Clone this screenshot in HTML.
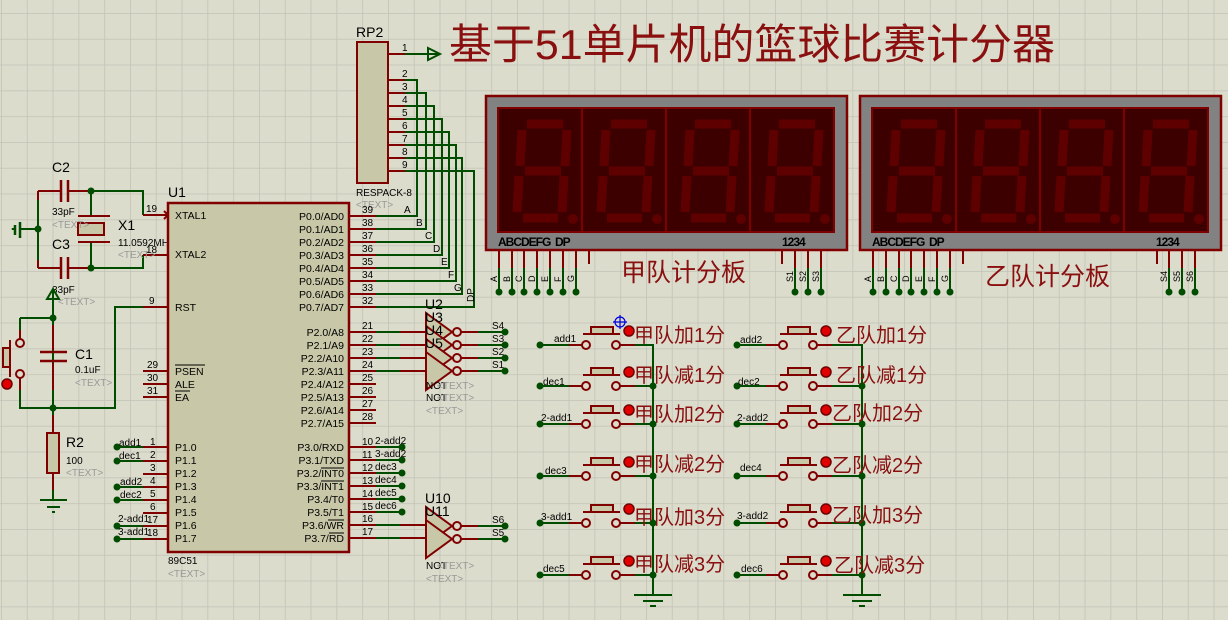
<!DOCTYPE html>
<html><head><meta charset="utf-8"><style>
html,body{margin:0;padding:0;background:#dcdccd;}
svg{display:block;font-family:"Liberation Sans",Arial,sans-serif;}
.cn{font-family:"Liberation Sans","Noto Sans CJK SC",sans-serif;}
</style></head><body>
<svg width="1228" height="620" viewBox="0 0 1228 620" xmlns="http://www.w3.org/2000/svg">
<defs>
<pattern id="g" x="1" y="13" width="25.8" height="25.8" patternUnits="userSpaceOnUse">
<path d="M0 0H25.8M0 0V25.8" stroke="#c2c2b6" stroke-width="1.6" fill="none"/>
</pattern>
<g id="dig">
<g stroke="#5e0000" stroke-width="9" stroke-linecap="butt" fill="none">
<path d="M29 16H65"/><path d="M69 22L67 58"/><path d="M24 22L22 58"/><path d="M27 63H63"/>
<path d="M21 68L19 104"/><path d="M66 68L64 104"/><path d="M25 110H60"/>
</g>
<circle cx="75" cy="111" r="5" fill="#5e0000"/>
</g>
<g id="disp">
<rect x="0" y="0" width="361" height="154" fill="#828282" stroke="#800000" stroke-width="2.5"/>
<rect x="12" y="12" width="336" height="124" fill="#3c0000" stroke="#800000" stroke-width="2"/>
<path d="M96 12V136M180 12V136M264 12V136" stroke="#800000" stroke-width="2"/>
<use href="#dig" x="12" y="12"/><use href="#dig" x="96" y="12"/><use href="#dig" x="180" y="12"/><use href="#dig" x="264" y="12"/>
<text x="12" y="150" font-size="12" font-weight="bold" fill="#000" letter-spacing="-1">ABCDEFG&#160;&#160;DP</text>
<text x="296" y="150" font-size="12" font-weight="bold" fill="#000" letter-spacing="-1">1234</text>
</g>
<g id="btn">
<path d="M0 0H29" stroke="#004d00" stroke-width="2"/>
<path d="M29 0H42" stroke="#800000" stroke-width="2"/>
<circle cx="46" cy="0" r="4" fill="#dcdccd" stroke="#800000" stroke-width="2"/>
<circle cx="76" cy="0" r="4" fill="#dcdccd" stroke="#800000" stroke-width="2"/>
<path d="M43 -11H80" stroke="#800000" stroke-width="2"/>
<rect x="51" y="-18" width="22" height="7" fill="#c8c8a8" stroke="#800000" stroke-width="2"/>
<path d="M80 0H95" stroke="#800000" stroke-width="2"/>
<circle cx="0" cy="0" r="3.5" fill="#004d00"/>
<circle cx="89" cy="-14" r="5" fill="#e00000" stroke="#700000" stroke-width="1.5"/>
</g>
</defs>
<rect width="1228" height="620" fill="#dcdccd"/>
<rect width="1228" height="620" fill="url(#g)"/>

<!-- Title -->
<text x="449" y="59" class="cn" font-size="42" fill="#8a1010" textLength="606" lengthAdjust="spacingAndGlyphs">基于51单片机的篮球比赛计分器</text>

<!-- RP2 -->
<text x="356" y="37" font-size="14" fill="#000">RP2</text>
<rect x="357" y="42" width="31" height="141" fill="#c8c8a8" stroke="#800000" stroke-width="2"/>
<text x="356" y="196" font-size="10" fill="#000">RESPACK-8</text>
<text x="356" y="208" font-size="10" fill="#999">&lt;TEXT&gt;</text>
<path d="M388 54H405" stroke="#800000" stroke-width="2"/>
<path d="M405 54H440" stroke="#004d00" stroke-width="2"/>
<path d="M428 48L440 54L428 60Z" fill="none" stroke="#004d00" stroke-width="2"/>
<text x="402" y="51" font-size="10">1</text>
<g stroke-width="2" fill="none">
<path d="M388 80H405M388 93H405M388 106H405M388 119H405M388 132H405M388 145H405M388 158H405M388 171H405" stroke="#800000"/>
<path d="M405 80H417V216H376M405 93H426V229H376M405 106H434V242H376M405 119H442V255H376M405 132H449V268H376M405 145H456V281H376M405 158H462V294H376M405 171H474V307H376" stroke="#004d00"/>
</g>
<g font-size="10">
<text x="402" y="77">2</text><text x="402" y="90">3</text><text x="402" y="103">4</text><text x="402" y="116">5</text><text x="402" y="129">6</text><text x="402" y="142">7</text><text x="402" y="155">8</text><text x="402" y="168">9</text>
<text x="404" y="213">A</text><text x="416" y="226">B</text><text x="425" y="239">C</text><text x="433" y="252">D</text><text x="441" y="265">E</text><text x="448" y="278">F</text><text x="454" y="291">G</text>
<text x="470" y="306" transform="rotate(-90 470 302)" font-size="10">DP</text>
</g>

<!-- Displays -->
<use href="#disp" x="486" y="96"/>
<use href="#disp" x="860" y="96"/>
<g stroke-width="2" fill="none">
<path d="M499 251V268M512 251V268M524 251V268M537 251V268M550 251V268M563 251V268M576 251V268M589 251V264M782 251V264M795 251V268M808 251V268M821 251V268" stroke="#800000"/>
<path d="M499 268V292M512 268V292M524 268V292M537 268V292M550 268V292M563 268V292M576 268V292M795 268V292M808 268V292M821 268V292" stroke="#004d00"/>
<path d="M873 251V268M886 251V268M899 251V268M911 251V268M924 251V268M937 251V268M950 251V268M963 251V264M1157 251V264M1169 251V268M1182 251V268M1195 251V268" stroke="#800000"/>
<path d="M873 268V292M886 268V292M899 268V292M911 268V292M924 268V292M937 268V292M950 268V292M1169 268V292M1182 268V292M1195 268V292" stroke="#004d00"/>
</g>
<g fill="#004d00">
<circle cx="499" cy="292" r="3.5"/><circle cx="512" cy="292" r="3.5"/><circle cx="524" cy="292" r="3.5"/><circle cx="537" cy="292" r="3.5"/><circle cx="550" cy="292" r="3.5"/><circle cx="563" cy="292" r="3.5"/><circle cx="576" cy="292" r="3.5"/><circle cx="795" cy="292" r="3.5"/><circle cx="808" cy="292" r="3.5"/><circle cx="821" cy="292" r="3.5"/>
<circle cx="873" cy="292" r="3.5"/><circle cx="886" cy="292" r="3.5"/><circle cx="899" cy="292" r="3.5"/><circle cx="911" cy="292" r="3.5"/><circle cx="924" cy="292" r="3.5"/><circle cx="937" cy="292" r="3.5"/><circle cx="950" cy="292" r="3.5"/><circle cx="1169" cy="292" r="3.5"/><circle cx="1182" cy="292" r="3.5"/><circle cx="1195" cy="292" r="3.5"/>
</g>
<g font-size="9" fill="#000">
<text transform="translate(497,282) rotate(-90)">A</text><text transform="translate(510,282) rotate(-90)">B</text><text transform="translate(522,282) rotate(-90)">C</text><text transform="translate(535,282) rotate(-90)">D</text><text transform="translate(548,282) rotate(-90)">E</text><text transform="translate(561,282) rotate(-90)">F</text><text transform="translate(574,282) rotate(-90)">G</text>
<text transform="translate(793,282) rotate(-90)">S1</text><text transform="translate(806,282) rotate(-90)">S2</text><text transform="translate(819,282) rotate(-90)">S3</text>
<text transform="translate(871,282) rotate(-90)">A</text><text transform="translate(884,282) rotate(-90)">B</text><text transform="translate(897,282) rotate(-90)">C</text><text transform="translate(909,282) rotate(-90)">D</text><text transform="translate(922,282) rotate(-90)">E</text><text transform="translate(935,282) rotate(-90)">F</text><text transform="translate(948,282) rotate(-90)">G</text>
<text transform="translate(1167,282) rotate(-90)">S4</text><text transform="translate(1180,282) rotate(-90)">S5</text><text transform="translate(1193,282) rotate(-90)">S6</text>
</g>
<text x="621" y="281" class="cn" font-size="25" fill="#8a1010">甲队计分板</text>
<text x="985" y="285" class="cn" font-size="25" fill="#8a1010">乙队计分板</text>

<!-- Crystal / caps -->
<g stroke-width="2" fill="none">
<path d="M38 191V268M38 191H61M68 191H91M38 268H61M68 268H91" stroke="#800000"/>
<path d="M38 200V260" stroke="#004d00"/>
<path d="M91 191H143V215M91 268H143V255M91 191V216M91 242V268M20 229H38" stroke="#004d00"/>
<path d="M143 215H168M143 255H168" stroke="#800000"/>
<path d="M61 180V202M68 180V202M61 257V279M68 257V279" stroke="#800000" stroke-width="2.5"/>
<path d="M78 216H110M78 242H110" stroke="#800000"/>
<rect x="78" y="223" width="26" height="12" fill="#c8c8a8" stroke="#800000"/>
<path d="M20 222V238M15 225V235M13 228V230" stroke="#004d00" stroke-width="2.5"/>
<path d="M164 211L168 215L164 219" stroke="#800000"/>
</g>
<circle cx="38" cy="229" r="3.5" fill="#004d00"/>
<circle cx="91" cy="191" r="3.5" fill="#004d00"/>
<circle cx="91" cy="268" r="3.5" fill="#004d00"/>
<text x="52" y="172" font-size="14">C2</text>
<text x="52" y="215" font-size="10">33pF</text>
<text x="52" y="228" font-size="10" fill="#999">&lt;TEXT&gt;</text>
<text x="52" y="249" font-size="14">C3</text>
<text x="52" y="293" font-size="10">33pF</text>
<text x="58" y="305" font-size="10" fill="#999">&lt;TEXT&gt;</text>
<text x="118" y="230" font-size="14">X1</text>
<text x="118" y="246" font-size="10">11.0592MHz</text>
<text x="118" y="258" font-size="10" fill="#999">&lt;TEXT&gt;</text>
<text x="146" y="212" font-size="10">19</text>
<text x="146" y="253" font-size="10">18</text>

<!-- Reset circuit -->
<g stroke-width="2" fill="none">
<path d="M53 290V408M20 318H53M20 318V340M20 378V408H115V307H143M53 408V500" stroke="#004d00"/>
<path d="M53 325V350M53 363V390M53 415V433M53 473V490M20 330V339M20 379V390" stroke="#800000"/>
<path d="M47 299L53 289L59 299Z" stroke="#004d00"/>
<path d="M40 352H67M40 361H67" stroke="#800000" stroke-width="2.5"/>
<path d="M143 307H168" stroke="#800000"/>
<circle cx="20" cy="343" r="4" fill="#dcdccd" stroke="#800000"/>
<circle cx="20" cy="374" r="4" fill="#dcdccd" stroke="#800000"/>
<path d="M10 340V377" stroke="#800000"/>
<rect x="3" y="348" width="7" height="19" fill="#c8c8a8" stroke="#800000"/>
<rect x="47" y="433" width="12" height="40" fill="#c8c8a8" stroke="#800000"/>
<path d="M40 500H67M47 507H60M52 512H55" stroke="#004d00" stroke-width="2"/>
</g>
<circle cx="53" cy="318" r="3.5" fill="#004d00"/>
<circle cx="53" cy="408" r="3.5" fill="#004d00"/>
<circle cx="7" cy="384" r="5" fill="#e00000" stroke="#700000" stroke-width="1.5"/>
<text x="75" y="359" font-size="14">C1</text>
<text x="75" y="373" font-size="10">0.1uF</text>
<text x="75" y="386" font-size="10" fill="#999">&lt;TEXT&gt;</text>
<text x="66" y="447" font-size="14">R2</text>
<text x="66" y="464" font-size="10">100</text>
<text x="66" y="476" font-size="10" fill="#999">&lt;TEXT&gt;</text>
<text x="149" y="304" font-size="10">9</text>

<!-- U1 -->
<text x="168" y="197" font-size="14">U1</text>
<rect x="168" y="203" width="181" height="349" fill="#c8c8a8" stroke="#800000" stroke-width="2.5"/>
<text x="168" y="564" font-size="10">89C51</text>
<text x="168" y="577" font-size="10" fill="#999">&lt;TEXT&gt;</text>
<g font-size="10.5" fill="#000">
<text x="175" y="219">XTAL1</text><text x="175" y="258">XTAL2</text><text x="175" y="311">RST</text>
<text x="175" y="375">PSEN</text><text x="175" y="388">ALE</text><text x="175" y="401">EA</text>
<text x="175" y="451">P1.0</text><text x="175" y="464">P1.1</text><text x="175" y="477">P1.2</text><text x="175" y="490">P1.3</text><text x="175" y="503">P1.4</text><text x="175" y="516">P1.5</text><text x="175" y="529">P1.6</text><text x="175" y="542">P1.7</text>
</g>
<path d="M175 365H205M175 391H190M321 468H344M321 481H344M328 520H344M329 533H344" stroke="#000" stroke-width="1"/>
<g font-size="10.5" fill="#000" text-anchor="end">
<text x="344" y="220">P0.0/AD0</text><text x="344" y="233">P0.1/AD1</text><text x="344" y="246">P0.2/AD2</text><text x="344" y="259">P0.3/AD3</text><text x="344" y="272">P0.4/AD4</text><text x="344" y="285">P0.5/AD5</text><text x="344" y="298">P0.6/AD6</text><text x="344" y="311">P0.7/AD7</text>
<text x="344" y="336">P2.0/A8</text><text x="344" y="349">P2.1/A9</text><text x="344" y="362">P2.2/A10</text><text x="344" y="375">P2.3/A11</text><text x="344" y="388">P2.4/A12</text><text x="344" y="401">P2.5/A13</text><text x="344" y="414">P2.6/A14</text><text x="344" y="427">P2.7/A15</text>
<text x="344" y="451">P3.0/RXD</text><text x="344" y="464">P3.1/TXD</text><text x="344" y="477">P3.2/INT0</text><text x="344" y="490">P3.3/INT1</text><text x="344" y="503">P3.4/T0</text><text x="344" y="516">P3.5/T1</text><text x="344" y="529">P3.6/WR</text><text x="344" y="542">P3.7/RD</text>
</g>
<g stroke-width="2" fill="none">
<path d="M143 371H168M143 384H168M143 397H168M143 447H168M143 461H168M143 474H168M143 487H168M143 500H168M143 513H168M143 526H168M143 539H168" stroke="#800000"/>
<path d="M117 447H143M117 461H143M117 487H143M117 500H143M117 526H143M117 539H143" stroke="#004d00"/>
<path d="M349 216H376M349 229H376M349 242H376M349 255H376M349 268H376M349 281H376M349 294H376M349 307H376M349 332H376M349 345H376M349 358H376M349 371H376M349 384H376M349 397H376M349 410H376M349 423H376M349 447H376M349 460H376M349 473H376M349 486H376M349 499H376M349 512H376M349 525H376M349 538H376" stroke="#800000"/>
<path d="M376 332H400M376 345H400M376 358H400M376 371H400M376 447H402M376 460H402M376 473H402M376 486H402M376 499H402M376 512H402M376 525H400M376 538H400" stroke="#004d00"/>
<path d="M400 332H426M400 345H426M400 358H426M400 371H426M400 525H426M400 538H426" stroke="#800000"/>
</g>
<g fill="#004d00">
<circle cx="117" cy="447" r="3.5"/><circle cx="117" cy="461" r="3.5"/><circle cx="117" cy="487" r="3.5"/><circle cx="117" cy="500" r="3.5"/><circle cx="117" cy="526" r="3.5"/><circle cx="117" cy="539" r="3.5"/>
<circle cx="402" cy="447" r="3.5"/><circle cx="402" cy="460" r="3.5"/><circle cx="402" cy="473" r="3.5"/><circle cx="402" cy="486" r="3.5"/><circle cx="402" cy="499" r="3.5"/><circle cx="402" cy="512" r="3.5"/>
</g>
<g font-size="10" fill="#000">
<text x="150" y="445">1</text><text x="150" y="458">2</text><text x="150" y="471">3</text><text x="150" y="484">4</text><text x="150" y="497">5</text><text x="150" y="510">6</text><text x="147" y="523">17</text><text x="147" y="536">18</text>
<text x="119" y="446">add1</text><text x="119" y="459">dec1</text><text x="120" y="485">add2</text><text x="120" y="498">dec2</text><text x="118" y="522">2-add1</text><text x="118" y="535">3-add1</text>
<text x="147" y="368">29</text><text x="147" y="381">30</text><text x="147" y="394">31</text>
<text x="362" y="213">39</text><text x="362" y="226">38</text><text x="362" y="239">37</text><text x="362" y="252">36</text><text x="362" y="265">35</text><text x="362" y="278">34</text><text x="362" y="291">33</text><text x="362" y="304">32</text>
<text x="362" y="329">21</text><text x="362" y="342">22</text><text x="362" y="355">23</text><text x="362" y="368">24</text><text x="362" y="381">25</text><text x="362" y="394">26</text><text x="362" y="407">27</text><text x="362" y="420">28</text>
<text x="362" y="445">10</text><text x="362" y="458">11</text><text x="362" y="471">12</text><text x="362" y="484">13</text><text x="362" y="497">14</text><text x="362" y="510">15</text><text x="362" y="522">16</text><text x="362" y="535">17</text>
<text x="375" y="444">2-add2</text><text x="375" y="457">3-add2</text><text x="375" y="470">dec3</text><text x="375" y="483">dec4</text><text x="375" y="496">dec5</text><text x="375" y="509">dec6</text>
</g>

<!-- NOT gates -->
<g stroke="#800000" stroke-width="2" fill="#c8c8a8">
<path d="M426 313L452 332L426 351Z"/><path d="M426 326L452 345L426 364Z"/><path d="M426 339L452 358L426 377Z"/><path d="M426 352L452 371L426 390Z"/>
<path d="M426 507L452 526L426 545Z"/><path d="M426 520L452 539L426 558Z"/>
<circle cx="457" cy="332" r="4" fill="#dcdccd"/><circle cx="457" cy="345" r="4" fill="#dcdccd"/><circle cx="457" cy="358" r="4" fill="#dcdccd"/><circle cx="457" cy="371" r="4" fill="#dcdccd"/>
<circle cx="457" cy="526" r="4" fill="#dcdccd"/><circle cx="457" cy="539" r="4" fill="#dcdccd"/>
</g>
<g stroke-width="2" fill="none">
<path d="M461 332H478M461 345H478M461 358H478M461 371H478M461 526H478M461 539H478" stroke="#800000"/>
<path d="M478 332H505M478 345H505M478 358H505M478 371H505M478 526H505M478 539H505" stroke="#004d00"/>
</g>
<g fill="#004d00"><circle cx="505" cy="332" r="3.5"/><circle cx="505" cy="345" r="3.5"/><circle cx="505" cy="358" r="3.5"/><circle cx="505" cy="371" r="3.5"/><circle cx="505" cy="526" r="3.5"/><circle cx="505" cy="539" r="3.5"/></g>
<g font-size="10"><text x="492" y="329">S4</text><text x="492" y="342">S3</text><text x="492" y="355">S2</text><text x="492" y="368">S1</text><text x="492" y="523">S6</text><text x="492" y="536">S5</text></g>
<g font-size="14"><text x="425" y="309">U2</text><text x="425" y="322">U3</text><text x="425" y="335">U4</text><text x="425" y="348">U5</text><text x="425" y="503">U10</text><text x="425" y="516">U11</text></g>
<g font-size="10"><text x="426" y="389">NOT</text><text x="426" y="401">NOT</text><text x="426" y="569">NOT</text></g>
<g font-size="10" fill="#999"><text x="437" y="389">&lt;TEXT&gt;</text><text x="437" y="401">&lt;TEXT&gt;</text><text x="426" y="414">&lt;TEXT&gt;</text><text x="437" y="569">&lt;TEXT&gt;</text><text x="426" y="582">&lt;TEXT&gt;</text></g>

<!-- Buttons -->
<use href="#btn" x="540" y="345"/><use href="#btn" x="540" y="386"/><use href="#btn" x="540" y="424"/><use href="#btn" x="540" y="476"/><use href="#btn" x="540" y="523"/><use href="#btn" x="540" y="575"/>
<use href="#btn" x="737" y="345"/><use href="#btn" x="737" y="386"/><use href="#btn" x="737" y="424"/><use href="#btn" x="737" y="476"/><use href="#btn" x="737" y="523"/><use href="#btn" x="737" y="575"/>
<g stroke="#004d00" stroke-width="2" fill="none">
<path d="M635 345H653V595M635 386H653M635 424H653M635 476H653M635 523H653M635 575H653"/>
<path d="M832 345H862V595M832 386H862M832 424H862M832 476H862M832 523H862M832 575H862"/>
<path d="M634 595H672M643 601H663M650 606H656"/>
<path d="M843 595H881M852 601H872M859 606H865"/>
</g>
<g fill="#004d00">
<circle cx="653" cy="386" r="3.5"/><circle cx="653" cy="424" r="3.5"/><circle cx="653" cy="476" r="3.5"/><circle cx="653" cy="523" r="3.5"/><circle cx="653" cy="575" r="3.5"/>
<circle cx="862" cy="386" r="3.5"/><circle cx="862" cy="424" r="3.5"/><circle cx="862" cy="476" r="3.5"/><circle cx="862" cy="523" r="3.5"/><circle cx="862" cy="575" r="3.5"/>
</g>
<g font-size="10">
<text x="554" y="342">add1</text><text x="543" y="385">dec1</text><text x="541" y="421">2-add1</text><text x="545" y="474">dec3</text><text x="541" y="520">3-add1</text><text x="543" y="572">dec5</text>
<text x="740" y="343">add2</text><text x="738" y="385">dec2</text><text x="737" y="421">2-add2</text><text x="740" y="471">dec4</text><text x="737" y="519">3-add2</text><text x="741" y="572">dec6</text>
</g>
<g class="cn" font-size="20" fill="#8a1010">
<text x="634" y="342">甲队加1分</text><text x="634" y="382">甲队减1分</text><text x="634" y="421">甲队加2分</text><text x="634" y="471">甲队减2分</text><text x="634" y="524">甲队加3分</text><text x="634" y="571">甲队减3分</text>
<text x="836" y="342">乙队加1分</text><text x="836" y="382">乙队减1分</text><text x="832" y="420">乙队加2分</text><text x="832" y="472">乙队减2分</text><text x="832" y="522">乙队加3分</text><text x="834" y="572">乙队减3分</text>
</g>
<g stroke="#0000e0" stroke-width="1.2" fill="none"><circle cx="620" cy="322" r="5"/><path d="M613 322H627M620 315V329"/></g>
</svg>
</body></html>
